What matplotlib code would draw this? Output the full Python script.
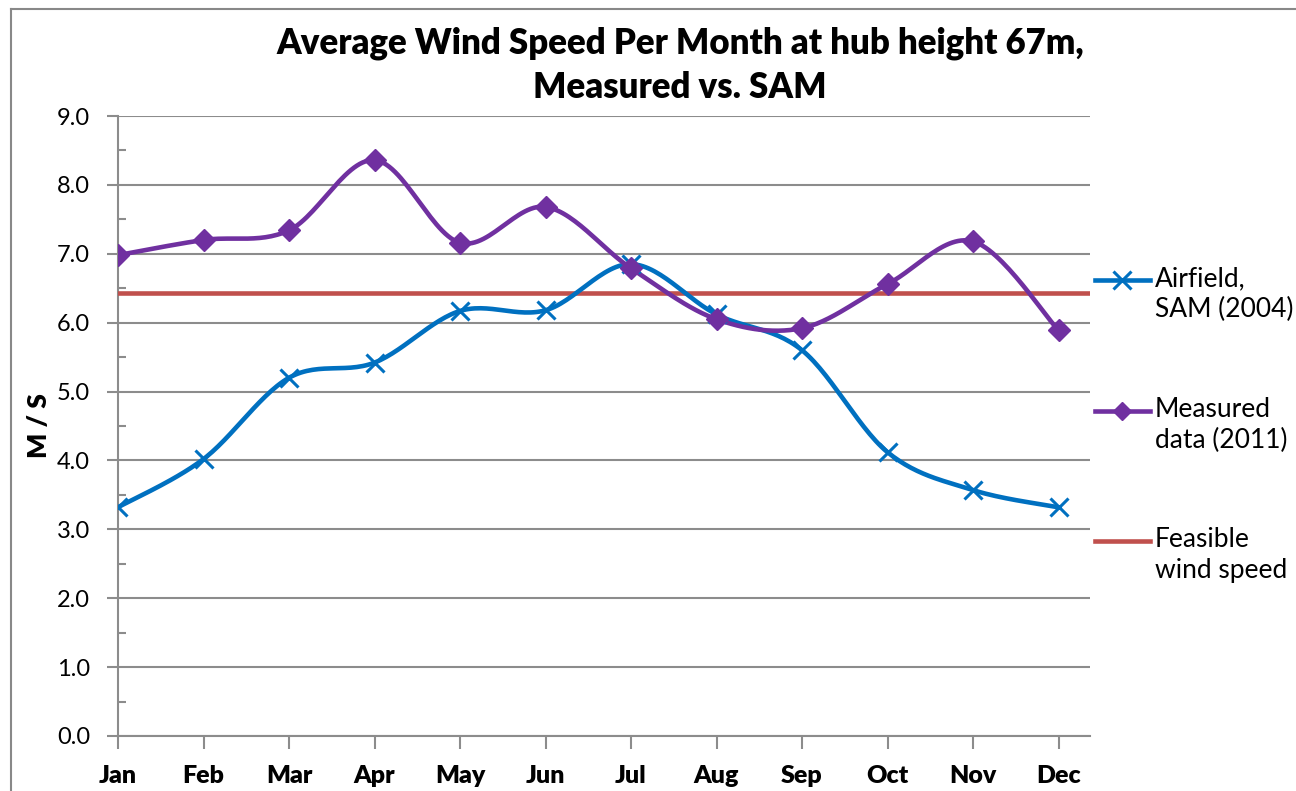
import numpy as np
import matplotlib.pyplot as plt
from matplotlib.lines import Line2D

plt.rcParams['font.family'] = ['Lato', 'DejaVu Sans']

months = ["Jan", "Feb", "Mar", "Apr", "May", "Jun",
          "Jul", "Aug", "Sep", "Oct", "Nov", "Dec"]
airfield = [3.32, 4.02, 5.20, 5.42, 6.17, 6.18, 6.85, 6.12, 5.60, 4.12, 3.57, 3.32]
measured = [6.98, 7.20, 7.34, 8.36, 7.16, 7.68, 6.79, 6.05, 5.92, 6.56, 7.18, 5.89]
feasible = 6.43

c_blue = "#0070C0"
c_purple = "#7030A0"
c_red = "#C0504D"
c_grid = "#8C8C8C"


def smooth(x, y, n=30):
    # excel-ish smoothed line: bezier segments, control points from neighbours
    x = np.asarray(x, float)
    y = np.asarray(y, float)
    px = np.concatenate([[x[0]], x, [x[-1]]])
    py = np.concatenate([[y[0]], y, [y[-1]]])
    t = np.linspace(0, 1, n)[:, None]
    xs, ys = [], []
    for i in range(1, len(x)):
        p0 = np.array([px[i], py[i]])
        p3 = np.array([px[i + 1], py[i + 1]])
        c1 = p0 + (p3 - np.array([px[i - 1], py[i - 1]])) / 6
        c2 = p3 - (np.array([px[i + 2], py[i + 2]]) - p0) / 6
        pts = ((1 - t) ** 3 * p0 + 3 * (1 - t) ** 2 * t * c1
               + 3 * (1 - t) * t ** 2 * c2 + t ** 3 * p3)
        xs.append(pts[:, 0])
        ys.append(pts[:, 1])
    return np.concatenate(xs), np.concatenate(ys)


fig = plt.figure(figsize=(12.96, 7.91), dpi=100)
ax = fig.add_axes([118 / 1296, 1 - 736 / 791, (1090 - 118) / 1296, (736 - 116) / 791])

xpos = np.arange(len(months))
lw = 3.3
ax.axhline(feasible, color=c_red, lw=lw, zorder=3)

sx, sy = smooth(xpos, airfield)
ax.plot(sx, sy, color=c_blue, lw=lw, zorder=4, solid_capstyle='round')
ax.plot(xpos, airfield, ls='none', marker='x', ms=13, mew=2.2, color=c_blue, zorder=5)

sx, sy = smooth(xpos, measured)
ax.plot(sx, sy, color=c_purple, lw=lw, zorder=4, solid_capstyle='round')
ax.plot(xpos, measured, ls='none', marker='D', ms=11, mec=c_purple, mfc=c_purple,
        color=c_purple, zorder=5)

ax.set_xlim(0, (1090 - 118) / 85.5)
ax.set_ylim(0, 9)
ax.set_yticks(np.arange(0, 9.01, 1))
ax.set_yticks(np.arange(0.5, 9, 1), minor=True)
ax.set_yticklabels([f"{v:.1f}" for v in np.arange(0, 9.01, 1)], fontsize=17)
ax.set_xticks(xpos)
ax.set_xticklabels(months, fontsize=18, fontweight='heavy')
ax.tick_params(axis='y', which='major', length=8, width=1.5, color=c_grid, pad=12)
ax.tick_params(axis='y', which='minor', direction='in', length=6, width=1.5, color=c_grid)
ax.tick_params(axis='x', length=9, width=1.5, color=c_grid, pad=12)
ax.grid(axis='y', which='major', color=c_grid, lw=1.5)
ax.set_axisbelow(True)
for s in ['top', 'right']:
    ax.spines[s].set_visible(False)
for s in ['left', 'bottom']:
    ax.spines[s].set_color(c_grid)
    ax.spines[s].set_linewidth(1.5)
    ax.spines[s].set_zorder(2)

ax.set_ylabel("M / S", fontsize=19, fontweight='heavy', labelpad=4)

fig.text(680 / 1296, 1 - 65 / 791, "Average Wind Speed Per Month at hub height 67m,\nMeasured vs. SAM",
         ha='center', va='center', fontsize=25, fontweight='heavy', linespacing=1.4)

# legend, handle sits on the first text line like in excel
legend_items = [
    ("Airfield,\nSAM (2004)", c_blue, 'x', 280),
    ("Measured\ndata (2011)", c_purple, 'D', 411),
    ("Feasible\nwind speed", c_red, None, 541),
]
for label, col, mk, ypix in legend_items:
    yf = 1 - ypix / 791
    fig.add_artist(Line2D([1095 / 1296, 1150 / 1296], [yf, yf], color=col, lw=lw,
                          transform=fig.transFigure))
    if mk == 'x':
        fig.add_artist(Line2D([1122 / 1296], [yf], ls='none', marker='x', ms=13, mew=2.2,
                              color=col, transform=fig.transFigure))
    elif mk == 'D':
        fig.add_artist(Line2D([1122 / 1296], [yf], ls='none', marker='D', ms=9,
                              color=col, transform=fig.transFigure))
    fig.text(1155 / 1296, yf + 14 / 791, label, ha='left', va='top', fontsize=19,
             linespacing=1.3)

# chart area border (left and top visible)
fig.add_artist(Line2D([11 / 1296, 11 / 1296], [0, 1 - 9 / 791], color='#888888', lw=1.5,
                      transform=fig.transFigure))
fig.add_artist(Line2D([11 / 1296, 1], [1 - 9 / 791, 1 - 9 / 791], color='#888888', lw=1.5,
                      transform=fig.transFigure))

fig.savefig("out.png", dpi=100)
